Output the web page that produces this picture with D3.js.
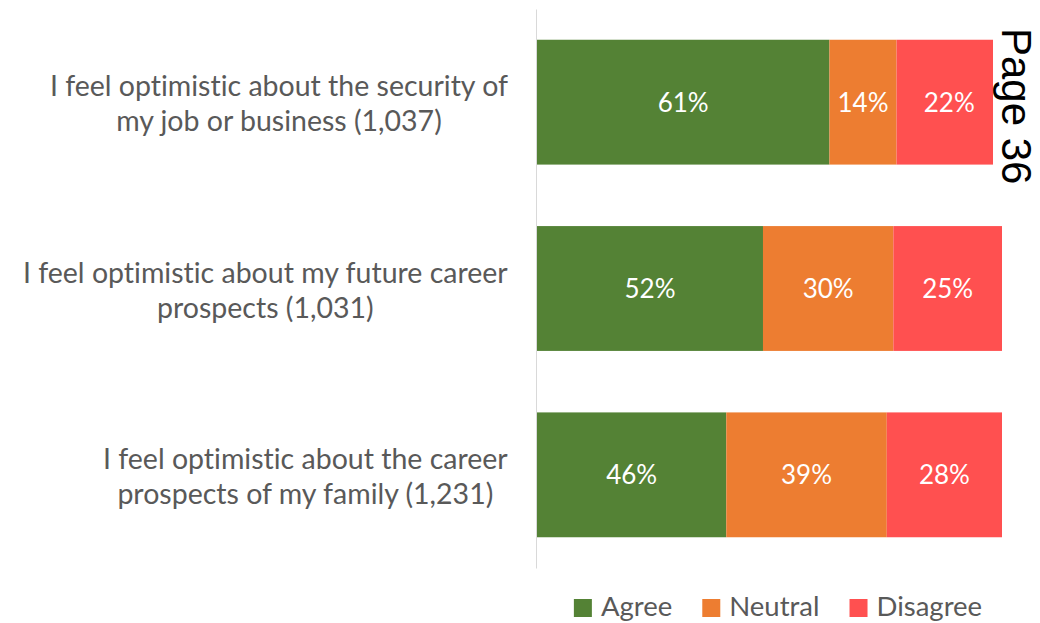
<!DOCTYPE html>
<html>
<head>
<meta charset="utf-8">
<script src="https://cdn.jsdelivr.net/npm/d3@7"></script>
<style>
  body { margin: 0; background: #fff; }
  text { font-family: Lato, "Open Sans", sans-serif; font-variant-ligatures: none; }
</style>
</head>
<body>
<div class="chart"></div>
<script>
let width = 1040;
let height = 623;

// data
let categories = [
  "I feel optimistic about the security of\nmy job or business (1,037)",
  "I feel optimistic about my future career\nprospects (1,031)",
  "I feel optimistic about the career\nprospects of my family (1,231)",
];
let seriesNames = ["Agree", "Neutral", "Disagree"];
let agree = [61, 52, 46];
let neutral = [14, 30, 39];
let disagree = [22, 25, 28];
let colors = ["#548235", "#ED7D31", "#FF5050"];

let rows = categories.map((c, i) => ({
  category: c,
  Agree: agree[i],
  Neutral: neutral[i],
  Disagree: disagree[i],
}));

let svg = d3
  .select(".chart")
  .append("svg")
  .attr("width", width)
  .attr("height", height);

let xScale = d3.scaleLinear().domain([0, 1]).range([537, 1002]);
let yScale = d3
  .scaleBand()
  .domain(categories)
  .range([9, 568])
  .paddingInner(0.33)
  .paddingOuter(0.165);
let color = d3.scaleOrdinal().domain(seriesNames).range(colors);

// 100% stacked: each bar is normalised
let stacked = d3.stack().keys(seriesNames).offset(d3.stackOffsetExpand)(rows);

// vertical axis line
svg
  .append("g")
  .attr("transform", "translate(536, 0)")
  .call(d3.axisLeft(yScale).tickSize(0).tickFormat(""))
  .call((g) => g.select(".domain").attr("stroke", "#d9d9d9").attr("stroke-width", 1));

let layer = svg
  .selectAll("g.layer")
  .data(stacked)
  .enter()
  .append("g")
  .attr("class", "layer")
  .attr("fill", (d) => color(d.key));

layer
  .selectAll("rect")
  .data((d) => d)
  .enter()
  .append("rect")
  .attr("x", (d) => xScale(d[0]))
  .attr("y", (d) => yScale(d.data.category))
  .attr("width", (d) => xScale(d[1]) - xScale(d[0]))
  .attr("height", yScale.bandwidth());

// value labels (raw percentages)
layer
  .selectAll("text")
  .data((d) => d.map((v) => ({ x0: v[0], x1: v[1], category: v.data.category, value: v.data[d.key] })))
  .enter()
  .append("text")
  .attr("x", (d) => (xScale(d.x0) + xScale(d.x1)) / 2)
  .attr("y", (d) => yScale(d.category) + yScale.bandwidth() / 2)
  .attr("dy", "0.36em")
  .attr("text-anchor", "middle")
  .attr("fill", "#fff")
  .style("font-size", "26px")
  .text((d) => d.value + "%");

// category labels: centred lines, block right-aligned near the axis
categories.forEach((c) => {
  let g = svg
    .append("g")
    .attr("transform", `translate(0, ${yScale(c) + yScale.bandwidth() / 2})`);
  g.selectAll("text")
    .data(c.split("\n"))
    .enter()
    .append("text")
    .attr("x", 0)
    .attr("y", (d, i) => -6 + i * 35)
    .attr("text-anchor", "middle")
    .attr("fill", "#595959")
    .style("font-size", "28.5px")
    .text((d) => d);
  let w = g.node().getBBox().width;
  g.attr("transform", `translate(${508 - w / 2}, ${yScale(c) + yScale.bandwidth() / 2})`);
});

// "Page 36" stamp with a white box behind it
svg
  .append("rect")
  .attr("x", 993)
  .attr("y", 22)
  .attr("width", 47)
  .attr("height", 168)
  .attr("fill", "#fff");
svg
  .append("text")
  .attr("transform", "translate(1002, 28) rotate(90)")
  .style("font-family", "'Liberation Sans', Arial, sans-serif")
  .style("font-size", "42px")
  .attr("fill", "#000")
  .text("Page 36");

// legend
let legend = svg.append("g");
let lx = 0;
seriesNames.forEach((name) => {
  let item = legend.append("g").attr("transform", `translate(${lx}, 0)`);
  item.append("rect").attr("x", 0).attr("y", 599).attr("width", 18).attr("height", 18).attr("fill", color(name));
  let t = item
    .append("text")
    .attr("x", 27)
    .attr("y", 616)
    .attr("fill", "#595959")
    .style("font-size", "27.5px")
    .text(name);
  lx += 27 + t.node().getComputedTextLength() + 30;
});
let legendWidth = lx - 30;
legend.attr("transform", `translate(${778 - legendWidth / 2}, 0)`);
</script>
</body>
</html>
